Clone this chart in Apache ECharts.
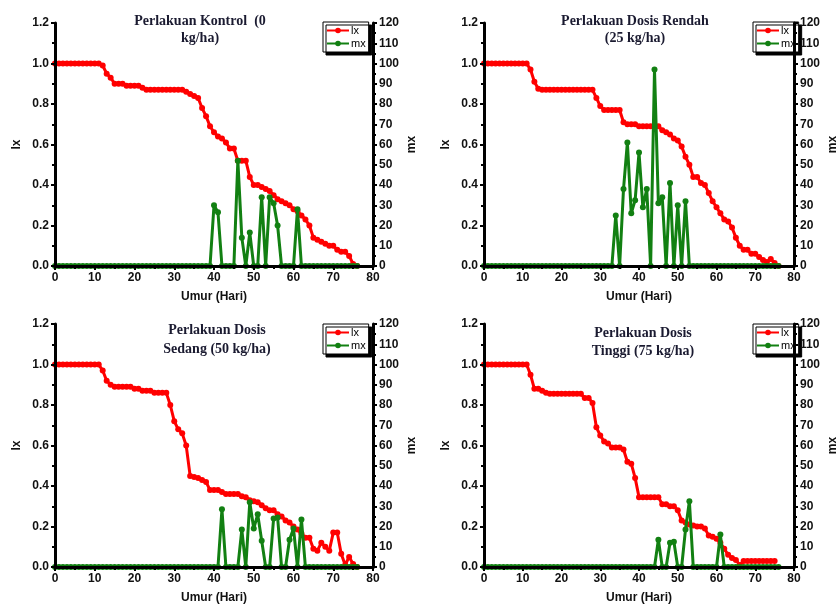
<!DOCTYPE html>
<html><head><meta charset="utf-8">
<script src="https://cdn.jsdelivr.net/npm/echarts@6/dist/echarts.min.js"></script>
<style>html,body{margin:0;padding:0;background:#fff}#c{width:840px;height:606px}</style>
</head><body><div id="c"></div>
<script>
// Titles of the four panels (two lines each)
const titleKontrol = ["Perlakuan Kontrol  (0", "kg/ha)"];
const titleRendah = ["Perlakuan Dosis Rendah", "(25 kg/ha)"];
const titleSedang = ["Perlakuan Dosis", "Sedang (50 kg/ha)"];
const titleTinggi = ["Perlakuan Dosis", "Tinggi (75 kg/ha)"];
const xName = "Umur (Hari)";
const seriesNames = ["lx", "mx"];

// lx values per day (index = day, starting at 0)
const lxKontrol = [1,1,1,1,1,1,1,1,1,1,1,1,
  0.99,0.95,0.93,0.90,0.90,0.90,0.89,0.89,0.89,0.89,
  0.88,0.87,0.87,0.87,0.87,0.87,0.87,0.87,0.87,0.87,
  0.87,0.86,0.85,0.84,0.83,0.78,0.74,0.69,0.66,0.64,
  0.63,0.61,0.58,0.58,0.52,0.52,0.52,0.44,0.40,0.40,
  0.39,0.38,0.37,0.35,0.33,0.32,0.31,0.30,0.28,0.27,
  0.25,0.23,0.20,0.14,0.13,0.12,0.11,0.10,0.10,0.08,
  0.07,0.07,0.05,0.01,0];
const mxKontrol = [0,0,0,0,0,0,0,0,0,0,
  0,0,0,0,0,0,0,0,0,0,
  0,0,0,0,0,0,0,0,0,0,
  0,0,0,0,0,0,0,0,0,0,
  30,26.5,0,0,0,0,52,14,0,16.5,
  0,0,34,0,34,31,20,0,0,0,
  0,28,0,0,0,0,0,0,0,0,
  0,0,0,0,0,0,0];

const lxRendah = [1,1,1,1,1,1,1,1,1,1,1,1,
  0.97,0.91,0.875,0.87,0.87,0.87,0.87,0.87,0.87,0.87,
  0.87,0.87,0.87,0.87,0.87,0.87,0.87,0.83,0.79,0.77,
  0.77,0.77,0.77,0.77,0.71,0.70,0.70,0.70,0.69,0.69,
  0.69,0.69,0.69,0.69,0.67,0.66,0.65,0.63,0.62,0.59,
  0.54,0.50,0.44,0.44,0.41,0.40,0.36,0.32,0.29,0.26,
  0.23,0.22,0.19,0.14,0.10,0.08,0.08,0.06,0.06,0.045,
  0.03,0.02,0.035,0.015,0];
const mxRendah = [0,0,0,0,0,0,0,0,0,0,
  0,0,0,0,0,0,0,0,0,0,
  0,0,0,0,0,0,0,0,0,0,
  0,0,0,0,25,0,38,61,26,32.5,
  56,29,38,0,97,31,34,0,41,0,
  30,0,32,0,0,0,0,0,0,0,
  0,0,0,0,0,0,0,0,0,0,
  0,0,0,0,0,0,0];

const lxSedang = [1,1,1,1,1,1,1,1,1,1,1,1,
  0.97,0.92,0.90,0.89,0.89,0.89,0.89,0.89,0.88,0.88,
  0.87,0.87,0.87,0.86,0.86,0.86,0.86,0.80,0.72,0.68,
  0.66,0.60,0.45,0.445,0.44,0.43,0.42,0.38,0.38,0.38,
  0.37,0.36,0.36,0.36,0.36,0.35,0.345,0.33,0.325,0.32,
  0.305,0.29,0.28,0.28,0.26,0.25,0.23,0.22,0.20,0.185,
  0.165,0.145,0.145,0.09,0.08,0.12,0.10,0.08,0.17,0.17,
  0.065,0.01,0.05,0.015,0];
const mxSedang = [0,0,0,0,0,0,0,0,0,0,
  0,0,0,0,0,0,0,0,0,0,
  0,0,0,0,0,0,0,0,0,0,
  0,0,0,0,0,0,0,0,0,0,
  0,0,28.5,0,0,0,0,18.5,0,32,
  19,26,13,0,0,24,24.5,0,0,13.5,
  19,0,23.5,0,0,0,0,0,0,0,
  0,0,0,0,0,0,0];

const lxTinggi = [1,1,1,1,1,1,1,1,1,1,1,1,
  0.95,0.88,0.88,0.87,0.86,0.855,0.855,0.855,0.855,0.855,
  0.855,0.855,0.855,0.855,0.835,0.835,0.81,0.69,0.65,0.62,
  0.61,0.59,0.59,0.59,0.58,0.52,0.51,0.44,0.345,0.345,
  0.345,0.345,0.345,0.345,0.31,0.31,0.30,0.30,0.28,0.23,
  0.22,0.21,0.205,0.20,0.20,0.19,0.155,0.15,0.14,0.12,
  0.09,0.06,0.045,0.035,0.01,0.03,0.03,0.03,0.03,0.03,
  0.03,0.03,0.03,0.03];
const mxTinggi = [0,0,0,0,0,0,0,0,0,0,
  0,0,0,0,0,0,0,0,0,0,
  0,0,0,0,0,0,0,0,0,0,
  0,0,0,0,0,0,0,0,0,0,
  0,0,0,0,0,13.5,0,0,12,12.5,
  0,0,18.5,32.5,0,0,0,0,0,0,
  0,16,0,0,0,0,0,0,0,0,
  0,0,0,0,0,0,0];

const panels = [
  {title: titleKontrol, lx: lxKontrol, mx: mxKontrol, grid: {left: 55, top: 23, width: 318, height: 243}, tx: 200, ty: [21, 38], leg: [323, 22]},
  {title: titleRendah, lx: lxRendah, mx: mxRendah, grid: {left: 484, top: 23, width: 319, height: 243}, tx: 635, ty: [21, 38], leg: [753, 22]},
  {title: titleSedang, lx: lxSedang, mx: mxSedang, grid: {left: 55, top: 324, width: 318, height: 243}, tx: 217, ty: [330, 349], leg: [323, 324]},
  {title: titleTinggi, lx: lxTinggi, mx: mxTinggi, grid: {left: 484, top: 324, width: 320, height: 243}, tx: 643, ty: [333, 351], leg: [753, 324]}
];

const RED = '#ff0000', GREEN = '#128012', INK = '#111111';
const SANS = 'Liberation Sans, Arial, sans-serif';
const SERIF = 'Liberation Serif, Times New Roman, serif';

const axisLine = {show: true, lineStyle: {color: '#000', width: 3}};
const labelStyle = {color: INK, fontWeight: 'bold', fontSize: 12, fontFamily: SANS};
const nameStyle = {color: INK, fontWeight: 'bold', fontSize: 12, fontFamily: SANS};

const option = {
  backgroundColor: '#fff',
  animation: false,
  grid: [], xAxis: [], yAxis: [], series: [], legend: [], graphic: []
};

panels.forEach((p, i) => {
  option.grid.push(Object.assign({containLabel: false}, p.grid));
  option.xAxis.push({
    type: 'value', gridIndex: i, min: 0, max: 80, interval: 10, z: 5,
    name: xName, nameLocation: 'middle', nameGap: 25,
    nameTextStyle: nameStyle,
    axisLine: axisLine,
    axisTick: {show: true, inside: false, length: 4, lineStyle: {color: '#000', width: 2}},
    minorTick: {show: true, splitNumber: 2, length: 3, lineStyle: {color: '#000', width: 2}},
    axisLabel: Object.assign({margin: 6}, labelStyle),
    splitLine: {show: false}
  });
  option.yAxis.push({
    type: 'value', gridIndex: i, position: 'left', min: 0, max: 1.2, interval: 0.2, z: 5,
    name: 'lx', nameLocation: 'middle', nameGap: 32, nameRotate: 90,
    nameTextStyle: nameStyle,
    axisLine: axisLine,
    axisTick: {show: true, inside: false, length: 4, lineStyle: {color: '#000', width: 2}},
    minorTick: {show: true, splitNumber: 2, length: 3, lineStyle: {color: '#000', width: 2}},
    axisLabel: Object.assign({margin: 6, formatter: v => v.toFixed(1)}, labelStyle),
    splitLine: {show: false}
  });
  option.yAxis.push({
    type: 'value', gridIndex: i, position: 'right', min: 0, max: 120, interval: 10, z: 5,
    name: 'mx', nameLocation: 'middle', nameGap: 33, nameRotate: 90,
    nameTextStyle: nameStyle,
    axisLine: axisLine,
    axisTick: {show: true, inside: false, length: 4, lineStyle: {color: '#000', width: 2}},
    minorTick: {show: true, splitNumber: 2, length: 3, lineStyle: {color: '#000', width: 2}},
    axisLabel: Object.assign({margin: 6}, labelStyle),
    splitLine: {show: false}
  });
  option.series.push({
    name: seriesNames[0], type: 'line', xAxisIndex: i, yAxisIndex: 2 * i,
    data: p.lx.map((v, d) => [d, v]),
    symbol: 'circle', symbolSize: 6, showSymbol: true,
    lineStyle: {color: RED, width: 3}, itemStyle: {color: RED}, z: 2
  });
  option.series.push({
    name: seriesNames[1], type: 'line', xAxisIndex: i, yAxisIndex: 2 * i + 1,
    data: p.mx.map((v, d) => [d, v]),
    symbol: 'circle', symbolSize: 6, showSymbol: true,
    lineStyle: {color: GREEN, width: 3}, itemStyle: {color: GREEN}, z: 3
  });
  option.legend.push({
    data: seriesNames, orient: 'vertical', left: p.leg[0], top: p.leg[1],
    backgroundColor: '#fff', borderColor: '#000', borderWidth: 1,
    shadowColor: '#000', shadowOffsetX: 3, shadowOffsetY: 3, shadowBlur: 0,
    padding: [3, 3, 3, 3], itemGap: 2, itemWidth: 22, itemHeight: 7,
    selectedMode: false,
    textStyle: {color: '#000', fontSize: 11, fontFamily: SANS, padding: [0, 0, 0, -3]}
  });
  p.title.forEach((line, k) => {
    option.graphic.push({
      type: 'text', x: p.tx, y: p.ty[k], z: 10,
      style: {text: line, align: 'center', verticalAlign: 'middle',
        font: 'bold 14px ' + SERIF, fill: '#1a1a30'}
    });
  });
});

const chart = echarts.init(document.getElementById('c'), null, {renderer: 'canvas'});
chart.setOption(option);
</script></body></html>
